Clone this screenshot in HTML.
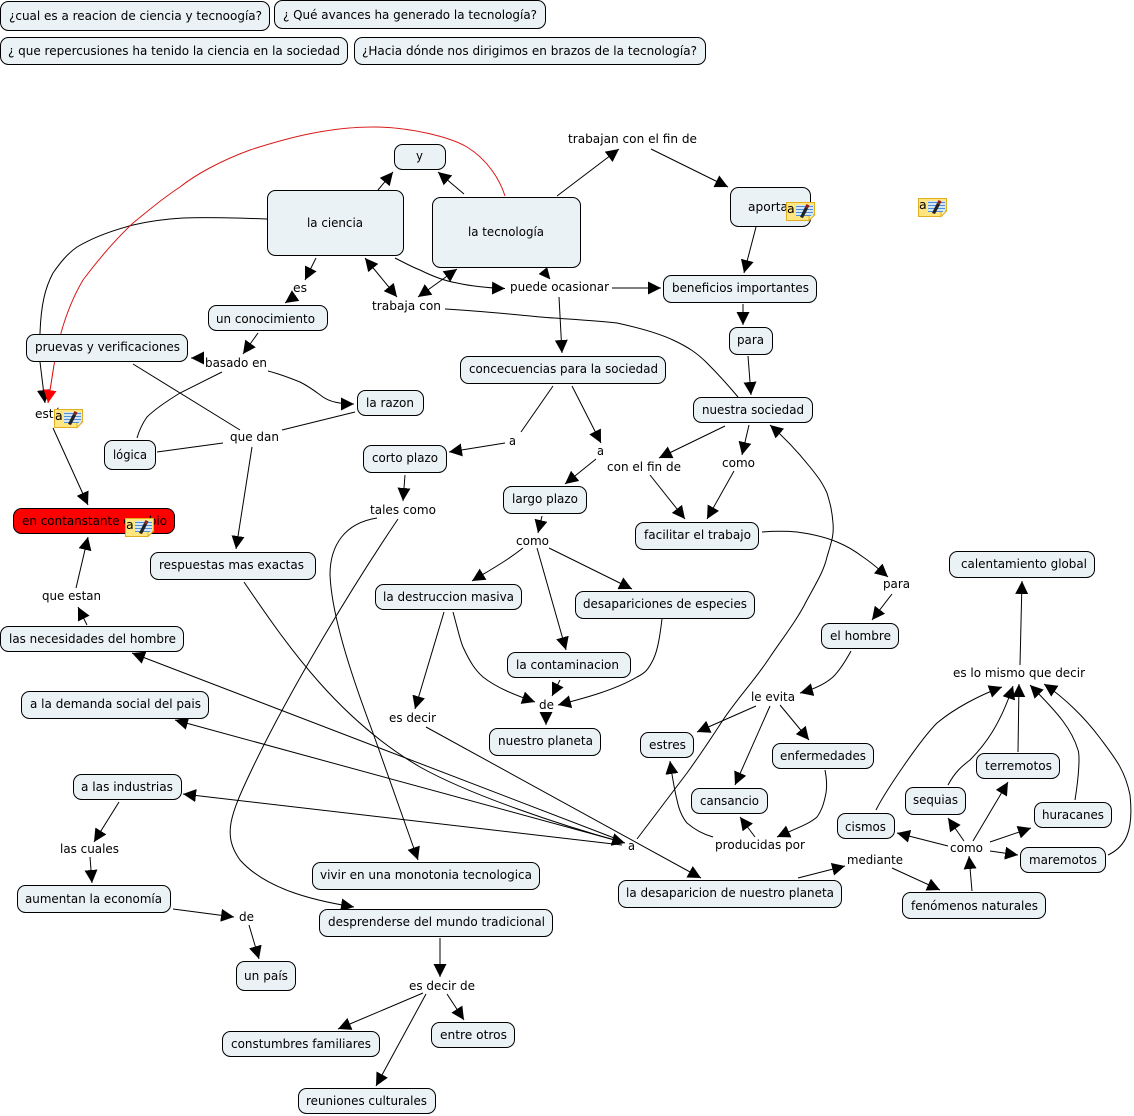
<!DOCTYPE html>
<html>
<head>
<meta charset="utf-8">
<style>
html,body{margin:0;padding:0;background:#fff;width:1134px;height:1116px;overflow:hidden}
svg{display:block}
text{font-family:"DejaVu Sans","Liberation Sans",sans-serif;font-size:12.5px;fill:#000}
.n{fill:#ebf2f5;stroke:#000;stroke-width:1}
.e{fill:none;stroke:#000;stroke-width:1}
</style>
</head>
<body>
<svg width="1134" height="1116" viewBox="0 0 1134 1116" xmlns="http://www.w3.org/2000/svg">
<defs>
<marker id="a" viewBox="0 0 13 13" refX="13" refY="6.5" markerWidth="13" markerHeight="13" markerUnits="userSpaceOnUse" orient="auto-start-reverse"><path d="M0,0L13,6.5L0,13z" fill="#000"/></marker>
<marker id="r" viewBox="0 0 13 13" refX="13" refY="6.5" markerWidth="13" markerHeight="13" markerUnits="userSpaceOnUse" orient="auto"><path d="M0,0L13,6.5L0,13z" fill="#f00"/></marker>
</defs>

<!-- edges -->
<g class="edges">
<path class="e" d="M267,219C240,218 210,217 183,218C165,219 150,221 133,225C110,231 92,238 77,247C67,254 60,263 53,273C45,288 41,305 40,333L40,362"/>
<path class="e" d="M40,362L45,403" marker-end="url(#a)"/>
<path class="e" d="M505,196C500,180 488,160 467,147C450,137 410,127 373,127C330,127 290,137 250,150C220,161 195,175 180,187C160,200 147,212 133,223C115,240 98,260 83,280C73,297 66,315 61,333L54,365" style="stroke:#d81818"/>
<path class="e" d="M54,365L48,403" marker-end="url(#r)" style="stroke:#e00000"/>
<path class="e" d="M378,190L393,172" marker-end="url(#a)"/>
<path class="e" d="M464,194L438,172" marker-end="url(#a)"/>
<path class="e" d="M557,196L619,149" marker-end="url(#a)"/>
<path class="e" d="M651,149L728,187" marker-end="url(#a)"/>
<path class="e" d="M756,227L744,273" marker-end="url(#a)"/>
<path class="e" d="M743,304L743,325" marker-end="url(#a)"/>
<path class="e" d="M748,356L751,395" marker-end="url(#a)"/>
<path class="e" d="M612,288L661,288" marker-end="url(#a)"/>
<path class="e" d="M365,258L397,297" marker-start="url(#a)" marker-end="url(#a)"/>
<path class="e" d="M418,297L457,269" marker-start="url(#a)" marker-end="url(#a)"/>
<path class="e" d="M395,258C405,263 412,267 420,270C432,276 445,281 457,283C475,287 490,288 505,288.5" marker-end="url(#a)"/>
<path d="M547,267.5L539,274L550,279z" fill="#000" stroke="#000" stroke-width="0.5"/>
<path class="e" d="M559,297L562,353" marker-end="url(#a)"/>
<path class="e" d="M445,309C480,311 510,314 540,317C565,319 590,320 617,323C640,328 658,333 673,340C688,347 697,353 707,363C718,374 728,385 738,397"/>
<path class="e" d="M553,386L521,432"/>
<path class="e" d="M505,443L449,452" marker-end="url(#a)"/>
<path class="e" d="M572,386L601,443" marker-end="url(#a)"/>
<path class="e" d="M596,459L565,484" marker-end="url(#a)"/>
<path class="e" d="M405,475L403,501" marker-end="url(#a)"/>
<path class="e" d="M377,518C345,523 330,545 330,575C332,620 355,685 373,733L418,860" marker-end="url(#a)"/>
<path class="e" d="M398,519C350,590 290,690 253,767C230,815 222,835 240,860C265,888 310,900 354,907" marker-end="url(#a)"/>
<path class="e" d="M542,516L538,533" marker-end="url(#a)"/>
<path class="e" d="M523,548C505,562 490,570 472,581" marker-end="url(#a)"/>
<path class="e" d="M537,548L566,650" marker-end="url(#a)"/>
<path class="e" d="M549,548L632,589" marker-end="url(#a)"/>
<path class="e" d="M444,612L415,709" marker-end="url(#a)"/>
<path class="e" d="M453,612C458,630 460,640 463,647C470,662 475,670 483,677C497,688 515,695 535,702" marker-end="url(#a)"/>
<path class="e" d="M560,680L552,696" marker-end="url(#a)"/>
<path class="e" d="M662,619C660,635 658,650 653,660C648,670 645,673 637,677C615,690 585,698 558,705" marker-end="url(#a)"/>
<path class="e" d="M546,713L546,725" marker-end="url(#a)"/>
<path class="e" d="M426,727L701,878" marker-end="url(#a)"/>
<path class="e" d="M244,582C290,650 340,720 420,767C470,795 560,825 625,843" marker-end="url(#a)"/>
<path class="e" d="M622,841L132,653" marker-end="url(#a)"/>
<path class="e" d="M622,842L175,720" marker-end="url(#a)"/>
<path class="e" d="M622,845L183,794" marker-end="url(#a)"/>
<path class="e" d="M637,839L687,773C700,755 712,737 723,720C740,695 755,680 770,657C785,635 797,620 807,600C818,580 824,570 827,557C832,540 834,535 833,523C832,510 830,503 827,493C822,482 818,477 810,467C798,452 785,438 770,425" marker-end="url(#a)"/>
<path class="e" d="M119,802L94,842" marker-end="url(#a)"/>
<path class="e" d="M90,857L92,883" marker-end="url(#a)"/>
<path class="e" d="M173,909L234,917" marker-end="url(#a)"/>
<path class="e" d="M249,925L259,959" marker-end="url(#a)"/>
<path class="e" d="M440,938L440,977" marker-end="url(#a)"/>
<path class="e" d="M423,993L338,1029" marker-end="url(#a)"/>
<path class="e" d="M447,994L464,1020" marker-end="url(#a)"/>
<path class="e" d="M426,994L376,1086" marker-end="url(#a)"/>
<path class="e" d="M725,426L659,458" marker-end="url(#a)"/>
<path class="e" d="M749,425L742,455" marker-end="url(#a)"/>
<path class="e" d="M650,475L685,519" marker-end="url(#a)"/>
<path class="e" d="M734,471L707,519" marker-end="url(#a)"/>
<path class="e" d="M133,364L240,430"/>
<path class="e" d="M355,412L282,430"/>
<path class="e" d="M157,452L223,443"/>
<path class="e" d="M252,447L236,549" marker-end="url(#a)"/>
<path class="e" d="M258,333L243,354" marker-end="url(#a)"/>
<path class="e" d="M203,358L191,358" marker-end="url(#a)"/>
<path class="e" d="M268,371C280,374 290,378 300,382C310,387 316,392 323,397C330,402 340,404 354,404" marker-end="url(#a)"/>
<path class="e" d="M222,372C208,379 194,386 180,393C167,401 155,409 147,417C142,424 139,431 137,438"/>
<path class="e" d="M316,258L305,280" marker-end="url(#a)"/>
<path class="e" d="M295,296L285,303" marker-end="url(#a)"/>
<path class="e" d="M53,428L88,505" marker-end="url(#a)"/>
<path class="e" d="M76,588L88,537" marker-end="url(#a)"/>
<path class="e" d="M87,625L78,607" marker-end="url(#a)"/>
<path class="e" d="M762,532C775,531 786,531 797,532C812,534 825,537 837,542C847,546 855,551 863,557C872,563 880,570 888,577" marker-end="url(#a)"/>
<path class="e" d="M892,594L872,620" marker-end="url(#a)"/>
<path class="e" d="M851,651C845,662 840,670 833,677C825,684 815,689 800,693" marker-end="url(#a)"/>
<path class="e" d="M756,706L697,732" marker-end="url(#a)"/>
<path class="e" d="M770,706L735,785" marker-end="url(#a)"/>
<path class="e" d="M780,705L809,740" marker-end="url(#a)"/>
<path class="e" d="M825,770C827,780 827,787 826,793C824,803 822,810 817,817C808,825 792,830 777,837" marker-end="url(#a)"/>
<path class="e" d="M755,837L740,817" marker-end="url(#a)"/>
<path class="e" d="M713,837C702,834 694,829 687,823C682,817 679,810 677,800C674,788 672,775 670,761" marker-end="url(#a)"/>
<path class="e" d="M798,878L845,866" marker-end="url(#a)"/>
<path class="e" d="M892,868L940,890" marker-end="url(#a)"/>
<path class="e" d="M972,891L969,856" marker-end="url(#a)"/>
<path class="e" d="M948,846L897,833" marker-end="url(#a)"/>
<path class="e" d="M964,841L948,818" marker-end="url(#a)"/>
<path class="e" d="M973,841L1008,782" marker-end="url(#a)"/>
<path class="e" d="M990,842L1031,828" marker-end="url(#a)"/>
<path class="e" d="M990,851L1018,855" marker-end="url(#a)"/>
<path class="e" d="M876,810C885,792 920,740 937,723C955,708 980,695 1002,687" marker-end="url(#a)"/>
<path class="e" d="M948,785C955,772 962,766 970,760C985,745 1000,725 1013,686" marker-end="url(#a)"/>
<path class="e" d="M1018,752L1019,684" marker-end="url(#a)"/>
<path class="e" d="M1075,800C1079,775 1080,755 1078,750C1072,730 1060,715 1030,685" marker-end="url(#a)"/>
<path class="e" d="M1108,855C1125,847 1134,832 1130,795C1125,770 1115,758 1100,738C1085,718 1065,698 1044,684" marker-end="url(#a)"/>
<path class="e" d="M1020,665L1022,581" marker-end="url(#a)"/>
</g>

<!-- nodes -->
<g>
<rect class="n" x="0.5" y="1.5" width="269" height="29" rx="8"/>
<rect class="n" x="274.5" y="0.5" width="271" height="28" rx="8"/>
<rect class="n" x="0.5" y="37.5" width="347" height="27" rx="8"/>
<rect class="n" x="354.5" y="37.5" width="351" height="27" rx="8"/>
<rect class="n" x="394.5" y="144.5" width="51" height="25" rx="8"/>
<rect class="n" x="267.5" y="190.5" width="136" height="65" rx="8"/>
<rect class="n" x="432.5" y="197.5" width="148" height="70" rx="8"/>
<rect class="n" x="730.5" y="187.5" width="80" height="39" rx="8"/>
<rect class="n" x="663.5" y="275.5" width="153" height="27" rx="8"/>
<rect class="n" x="729.5" y="327.5" width="43" height="27" rx="8"/>
<rect class="n" x="208.5" y="305.5" width="119" height="25" rx="8"/>
<rect class="n" x="26.5" y="334.5" width="161" height="27" rx="8"/>
<rect class="n" x="357.5" y="390.5" width="66" height="25" rx="8"/>
<rect class="n" x="104.5" y="440.5" width="51" height="29" rx="8"/>
<rect class="n" x="363.5" y="445.5" width="83" height="27" rx="8"/>
<rect class="n" x="460.5" y="356.5" width="205" height="27" rx="8"/>
<rect class="n" x="693.5" y="397.5" width="119" height="25" rx="8"/>
<rect x="13.5" y="508.5" width="161" height="25" rx="8" fill="#f00" stroke="#000"/>
<rect class="n" x="150.5" y="552.5" width="165" height="27" rx="8"/>
<rect class="n" x="503.5" y="486.5" width="83" height="27" rx="8"/>
<rect class="n" x="635.5" y="522.5" width="123" height="27" rx="8"/>
<rect class="n" x="949.5" y="551.5" width="145" height="26" rx="8"/>
<rect class="n" x="821.5" y="623.5" width="77" height="25" rx="8"/>
<rect class="n" x="375.5" y="584.5" width="146" height="25" rx="8"/>
<rect class="n" x="575.5" y="591.5" width="179" height="27" rx="8"/>
<rect class="n" x="0.5" y="626.5" width="183" height="25" rx="8"/>
<rect class="n" x="507.5" y="652.5" width="123" height="25" rx="8"/>
<rect class="n" x="21.5" y="691.5" width="187" height="27" rx="8"/>
<rect class="n" x="489.5" y="728.5" width="111" height="27" rx="8"/>
<rect class="n" x="640.5" y="732.5" width="53" height="25" rx="8"/>
<rect class="n" x="772.5" y="743.5" width="101" height="25" rx="8"/>
<rect class="n" x="976.5" y="753.5" width="83" height="25" rx="8"/>
<rect class="n" x="73.5" y="774.5" width="108" height="25" rx="8"/>
<rect class="n" x="905.5" y="787.5" width="60" height="27" rx="8"/>
<rect class="n" x="691.5" y="788.5" width="76" height="25" rx="8"/>
<rect class="n" x="1034.5" y="802.5" width="77" height="25" rx="8"/>
<rect class="n" x="837.5" y="813.5" width="57" height="25" rx="8"/>
<rect class="n" x="1020.5" y="847.5" width="85" height="25" rx="8"/>
<rect class="n" x="312.5" y="862.5" width="227" height="27" rx="8"/>
<rect class="n" x="618.5" y="880.5" width="223" height="27" rx="8"/>
<rect class="n" x="902.5" y="892.5" width="143" height="26" rx="8"/>
<rect class="n" x="17.5" y="885.5" width="153" height="27" rx="8"/>
<rect class="n" x="319.5" y="909.5" width="233" height="27" rx="8"/>
<rect class="n" x="236.5" y="961.5" width="59" height="29" rx="8"/>
<rect class="n" x="431.5" y="1022.5" width="83" height="25" rx="8"/>
<rect class="n" x="222.5" y="1031.5" width="157" height="25" rx="8"/>
<rect class="n" x="298.5" y="1088.5" width="137" height="25" rx="8"/>
</g>

<!-- labels -->
<g>
<text x="9" y="20" textLength="253" lengthAdjust="spacingAndGlyphs">¿cual es a reacion de ciencia y tecnoogía?</text>
<text x="283" y="19" textLength="254" lengthAdjust="spacingAndGlyphs">¿ Qué avances ha generado la tecnología?</text>
<text x="8" y="55" textLength="332" lengthAdjust="spacingAndGlyphs">¿ que repercusiones ha tenido la ciencia en la sociedad</text>
<text x="362" y="55" textLength="335" lengthAdjust="spacingAndGlyphs">¿Hacia dónde nos dirigimos en brazos de la tecnología?</text>
<text x="416" y="160" textLength="7" lengthAdjust="spacingAndGlyphs">y</text>
<text x="307" y="227" textLength="56" lengthAdjust="spacingAndGlyphs">la ciencia</text>
<text x="468" y="236" textLength="76" lengthAdjust="spacingAndGlyphs">la tecnología</text>
<text x="748" y="211" textLength="40" lengthAdjust="spacingAndGlyphs">aporta</text>
<text x="672" y="292" textLength="137" lengthAdjust="spacingAndGlyphs">beneficios importantes</text>
<text x="737" y="344" textLength="27" lengthAdjust="spacingAndGlyphs">para</text>
<text x="216" y="323" textLength="99" lengthAdjust="spacingAndGlyphs">un conocimiento</text>
<text x="35" y="351" textLength="145" lengthAdjust="spacingAndGlyphs">pruevas y verificaciones</text>
<text x="366" y="407" textLength="48" lengthAdjust="spacingAndGlyphs">la razon</text>
<text x="113" y="459" textLength="34" lengthAdjust="spacingAndGlyphs">lógica</text>
<text x="372" y="462" textLength="66" lengthAdjust="spacingAndGlyphs">corto plazo</text>
<text x="469" y="373" textLength="189" lengthAdjust="spacingAndGlyphs">concecuencias para la sociedad</text>
<text x="702" y="414" textLength="102" lengthAdjust="spacingAndGlyphs">nuestra sociedad</text>
<text x="22" y="525" textLength="145" lengthAdjust="spacingAndGlyphs">en contanstante cambio</text>
<text x="159" y="569" textLength="145" lengthAdjust="spacingAndGlyphs">respuestas mas exactas</text>
<text x="512" y="503" textLength="66" lengthAdjust="spacingAndGlyphs">largo plazo</text>
<text x="644" y="539" textLength="107" lengthAdjust="spacingAndGlyphs">facilitar el trabajo</text>
<text x="961" y="568" textLength="126" lengthAdjust="spacingAndGlyphs">calentamiento global</text>
<text x="830" y="640" textLength="61" lengthAdjust="spacingAndGlyphs">el hombre</text>
<text x="383" y="601" textLength="131" lengthAdjust="spacingAndGlyphs">la destruccion masiva</text>
<text x="583" y="608" textLength="164" lengthAdjust="spacingAndGlyphs">desapariciones de especies</text>
<text x="9" y="643" textLength="167" lengthAdjust="spacingAndGlyphs">las necesidades del hombre</text>
<text x="516" y="669" textLength="103" lengthAdjust="spacingAndGlyphs">la contaminacion</text>
<text x="30" y="708" textLength="171" lengthAdjust="spacingAndGlyphs">a la demanda social del pais</text>
<text x="498" y="745" textLength="95" lengthAdjust="spacingAndGlyphs">nuestro planeta</text>
<text x="649" y="749" textLength="37" lengthAdjust="spacingAndGlyphs">estres</text>
<text x="780" y="760" textLength="86" lengthAdjust="spacingAndGlyphs">enfermedades</text>
<text x="985" y="770" textLength="67" lengthAdjust="spacingAndGlyphs">terremotos</text>
<text x="81" y="791" textLength="92" lengthAdjust="spacingAndGlyphs">a las industrias</text>
<text x="913" y="804" textLength="45" lengthAdjust="spacingAndGlyphs">sequias</text>
<text x="700" y="805" textLength="59" lengthAdjust="spacingAndGlyphs">cansancio</text>
<text x="1042" y="819" textLength="62" lengthAdjust="spacingAndGlyphs">huracanes</text>
<text x="845" y="831" textLength="41" lengthAdjust="spacingAndGlyphs">cismos</text>
<text x="1029" y="864" textLength="68" lengthAdjust="spacingAndGlyphs">maremotos</text>
<text x="320" y="879" textLength="212" lengthAdjust="spacingAndGlyphs">vivir en una monotonia tecnologica</text>
<text x="626" y="897" textLength="208" lengthAdjust="spacingAndGlyphs">la desaparicion de nuestro planeta</text>
<text x="911" y="910" textLength="127" lengthAdjust="spacingAndGlyphs">fenómenos naturales</text>
<text x="25" y="903" textLength="137" lengthAdjust="spacingAndGlyphs">aumentan la economía</text>
<text x="328" y="926" textLength="217" lengthAdjust="spacingAndGlyphs">desprenderse del mundo tradicional</text>
<text x="244" y="980" textLength="44" lengthAdjust="spacingAndGlyphs">un país</text>
<text x="440" y="1039" textLength="67" lengthAdjust="spacingAndGlyphs">entre otros</text>
<text x="231" y="1048" textLength="140" lengthAdjust="spacingAndGlyphs">constumbres familiares</text>
<text x="306" y="1105" textLength="121" lengthAdjust="spacingAndGlyphs">reuniones culturales</text>

<text x="568" y="143" textLength="129" lengthAdjust="spacingAndGlyphs">trabajan con el fin de</text>
<text x="372" y="310" textLength="69" lengthAdjust="spacingAndGlyphs">trabaja con</text>
<text x="293" y="292" textLength="14" lengthAdjust="spacingAndGlyphs">es</text>
<text x="510" y="291" textLength="99" lengthAdjust="spacingAndGlyphs">puede ocasionar</text>
<text x="205" y="367" textLength="62" lengthAdjust="spacingAndGlyphs">basado en</text>
<text x="230" y="441" textLength="49" lengthAdjust="spacingAndGlyphs">que dan</text>
<text x="35" y="418" textLength="26" lengthAdjust="spacingAndGlyphs">está</text>
<text x="509" y="445" textLength="7" lengthAdjust="spacingAndGlyphs">a</text>
<text x="597" y="455" textLength="7" lengthAdjust="spacingAndGlyphs">a</text>
<text x="370" y="514" textLength="66" lengthAdjust="spacingAndGlyphs">tales como</text>
<text x="607" y="471" textLength="74" lengthAdjust="spacingAndGlyphs">con el fin de</text>
<text x="722" y="467" textLength="33" lengthAdjust="spacingAndGlyphs">como</text>
<text x="516" y="545" textLength="33" lengthAdjust="spacingAndGlyphs">como</text>
<text x="42" y="600" textLength="59" lengthAdjust="spacingAndGlyphs">que estan</text>
<text x="883" y="588" textLength="27" lengthAdjust="spacingAndGlyphs">para</text>
<text x="953" y="677" textLength="132" lengthAdjust="spacingAndGlyphs">es lo mismo que decir</text>
<text x="751" y="701" textLength="44" lengthAdjust="spacingAndGlyphs">le evita</text>
<text x="539" y="709" textLength="15" lengthAdjust="spacingAndGlyphs">de</text>
<text x="389" y="722" textLength="47" lengthAdjust="spacingAndGlyphs">es decir</text>
<text x="628" y="850" textLength="7" lengthAdjust="spacingAndGlyphs">a</text>
<text x="715" y="849" textLength="90" lengthAdjust="spacingAndGlyphs">producidas por</text>
<text x="847" y="864" textLength="56" lengthAdjust="spacingAndGlyphs">mediante</text>
<text x="950" y="852" textLength="33" lengthAdjust="spacingAndGlyphs">como</text>
<text x="60" y="853" textLength="59" lengthAdjust="spacingAndGlyphs">las cuales</text>
<text x="239" y="921" textLength="15" lengthAdjust="spacingAndGlyphs">de</text>
<text x="409" y="990" textLength="66" lengthAdjust="spacingAndGlyphs">es decir de</text>
</g>

<!-- note icons -->
<g transform="translate(54,409)">
<path d="M0.5,0.5H28.5V13L23,18.5H0.5z" fill="#ffe680" stroke="#e0ae20"/>
<path d="M23,18.5V13H28.5z" fill="#fff3b8" stroke="#e0ae20"/>
<rect x="10" y="3" width="17" height="11" fill="#d5e6f5"/>
<path d="M10,4.5H27M10,7.5H27M10,10.5H27M10,13.5H25" stroke="#4f8fd8" fill="none"/>
<path d="M14,15L19,5L22,6.5L17,16z" fill="#222"/>
<path d="M19,5L20.5,2L23.5,3.5L22,6.5z" fill="#8a1f1f"/>
<text x="1" y="11" style="font-size:12.5px">a</text>
</g>
<g transform="translate(125,518)">
<path d="M0.5,0.5H28.5V13L23,18.5H0.5z" fill="#ffe680" stroke="#e0ae20"/>
<path d="M23,18.5V13H28.5z" fill="#fff3b8" stroke="#e0ae20"/>
<rect x="10" y="3" width="17" height="11" fill="#d5e6f5"/>
<path d="M10,4.5H27M10,7.5H27M10,10.5H27M10,13.5H25" stroke="#4f8fd8" fill="none"/>
<path d="M14,15L19,5L22,6.5L17,16z" fill="#222"/>
<path d="M19,5L20.5,2L23.5,3.5L22,6.5z" fill="#8a1f1f"/>
<text x="1" y="11" style="font-size:12.5px">a</text>
</g>
<g transform="translate(786,202)">
<path d="M0.5,0.5H28.5V13L23,18.5H0.5z" fill="#ffe680" stroke="#e0ae20"/>
<path d="M23,18.5V13H28.5z" fill="#fff3b8" stroke="#e0ae20"/>
<rect x="10" y="3" width="17" height="11" fill="#d5e6f5"/>
<path d="M10,4.5H27M10,7.5H27M10,10.5H27M10,13.5H25" stroke="#4f8fd8" fill="none"/>
<path d="M14,15L19,5L22,6.5L17,16z" fill="#222"/>
<path d="M19,5L20.5,2L23.5,3.5L22,6.5z" fill="#8a1f1f"/>
<text x="1" y="11" style="font-size:12.5px">a</text>
</g>
<g transform="translate(918,198)">
<path d="M0.5,0.5H28.5V13L23,18.5H0.5z" fill="#ffe680" stroke="#e0ae20"/>
<path d="M23,18.5V13H28.5z" fill="#fff3b8" stroke="#e0ae20"/>
<rect x="10" y="3" width="17" height="11" fill="#d5e6f5"/>
<path d="M10,4.5H27M10,7.5H27M10,10.5H27M10,13.5H25" stroke="#4f8fd8" fill="none"/>
<path d="M14,15L19,5L22,6.5L17,16z" fill="#222"/>
<path d="M19,5L20.5,2L23.5,3.5L22,6.5z" fill="#8a1f1f"/>
<text x="1" y="11" style="font-size:12.5px">a</text>
</g>
</svg>
</body>
</html>
